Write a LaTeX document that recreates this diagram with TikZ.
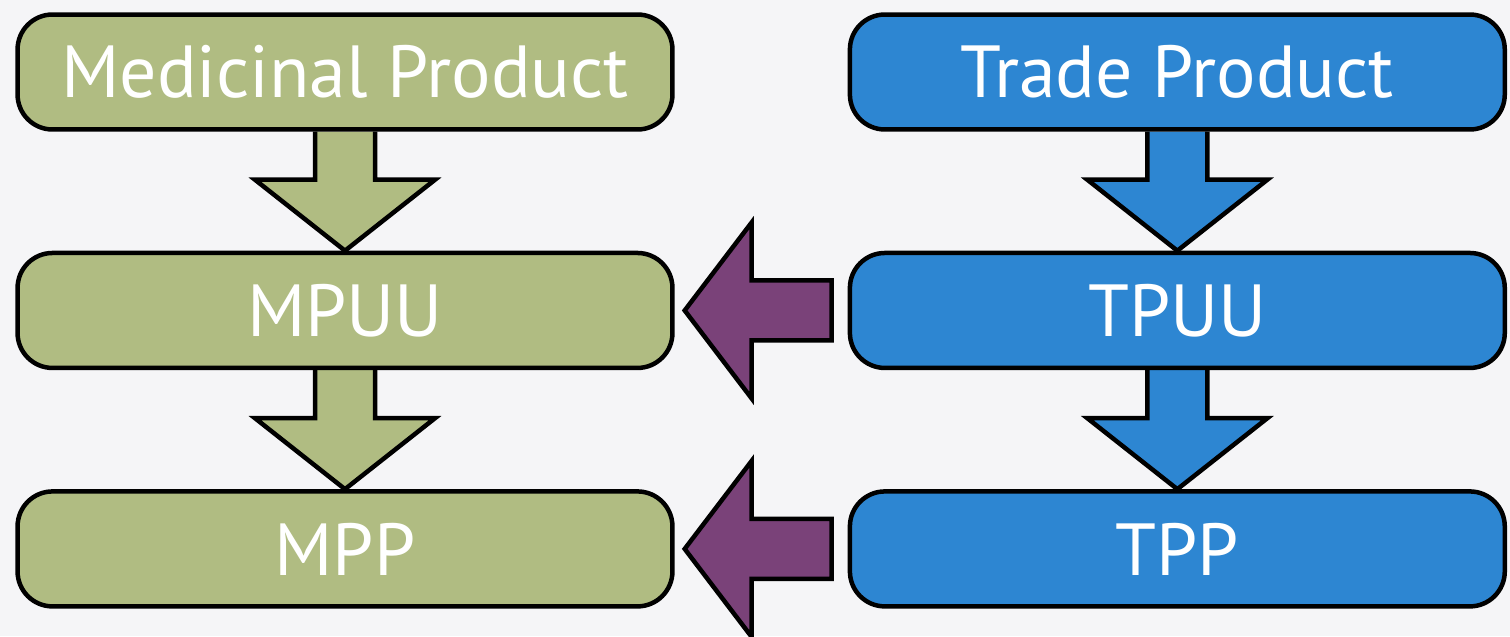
\documentclass[tikz,border=0pt]{standalone}
\usepackage{fontspec}
\setmainfont{PT Sans}
\usetikzlibrary{positioning,calc,backgrounds}
\definecolor{mpgreen}{RGB}{176,188,130}
\definecolor{tpblue}{RGB}{45,134,210}
\definecolor{linkpurple}{RGB}{122,66,121}
\definecolor{bggray}{RGB}{245,245,247}

% block arrow from the bottom of one box down to the top of the next
\newcommand{\blockdown}[3]{%
  \draw[blockarr, fill=#3] ($(#1.south)+(-30,0)$) -- ($(#1.south)+(-30,48)$)
    -- ($(#1.south)+(-90,48)$) -- (#2.north) -- ($(#1.south)+(90,48)$)
    -- ($(#1.south)+(30,48)$) -- ($(#1.south)+(30,0)$);}
% block arrow from a trade box to the medicinal box on its left
\newcommand{\blockleft}[2]{%
  \draw[blockarr, fill=linkpurple] ($(#1.west)+(-16,-30)$) -- ($(#1.west)+(-96,-30)$)
    -- ($(#1.west)+(-96,-88)$) -- ($(#2.east)+(10,0)$) -- ($(#1.west)+(-96,88)$)
    -- ($(#1.west)+(-96,30)$) -- ($(#1.west)+(-16,30)$) -- cycle;}

\begin{document}
\begin{tikzpicture}[x=0.02cm, y=-0.02cm,
    box/.style={draw, line width=0.09cm, rounded corners=0.7cm,
      minimum width=13.1cm, minimum height=2.3cm, text=white,
      font=\fontsize{42}{50}\selectfont},
    blockarr/.style={draw, line width=0.09cm, line join=miter}
  ]
  \begin{pgfonlayer}{background}
    \fill[bggray] (0,0) rectangle (1510,636);
  \end{pgfonlayer}
  \useasboundingbox (0,0) rectangle (1510,636);

  \node[box, fill=mpgreen] (mp) at (345,72) {Medicinal Product};
  \node[box, fill=mpgreen, below=2.38cm of mp] (mpuu) {MPUU};
  \node[box, fill=mpgreen, below=2.38cm of mpuu] (mpp) {MPP};

  \node[box, fill=tpblue, right=3.46cm of mp] (tp) {Trade Product};
  \node[box, fill=tpblue, below=2.38cm of tp] (tpuu) {TPUU};
  \node[box, fill=tpblue, below=2.38cm of tpuu] (tpp) {TPP};

  \begin{pgfonlayer}{background}
    \blockdown{mp}{mpuu}{mpgreen}
    \blockdown{mpuu}{mpp}{mpgreen}
    \blockdown{tp}{tpuu}{tpblue}
    \blockdown{tpuu}{tpp}{tpblue}
  \end{pgfonlayer}
  \blockleft{tpuu}{mpuu}
  \blockleft{tpp}{mpp}
\end{tikzpicture}
\end{document}
